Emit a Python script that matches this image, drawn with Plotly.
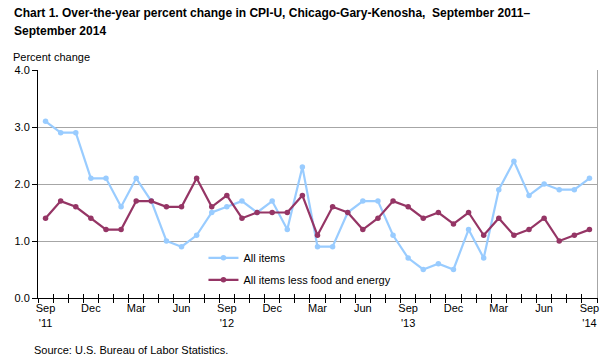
import plotly.graph_objects as go

months = ["Sep '11","Oct","Nov","Dec","Jan","Feb","Mar","Apr","May","Jun","Jul","Aug",
          "Sep '12","Oct","Nov","Dec","Jan","Feb","Mar","Apr","May","Jun","Jul","Aug",
          "Sep '13","Oct","Nov","Dec","Jan","Feb","Mar","Apr","May","Jun","Jul","Aug",
          "Sep '14"]
all_items = [3.1,2.9,2.9,2.1,2.1,1.6,2.1,1.7,1.0,0.9,1.1,1.5,
             1.6,1.7,1.5,1.7,1.2,2.3,0.9,0.9,1.5,1.7,1.7,1.1,
             0.7,0.5,0.6,0.5,1.2,0.7,1.9,2.4,1.8,2.0,1.9,1.9,
             2.1]
core = [1.4,1.7,1.6,1.4,1.2,1.2,1.7,1.7,1.6,1.6,2.1,1.6,
        1.8,1.4,1.5,1.5,1.5,1.8,1.1,1.6,1.5,1.2,1.4,1.7,
        1.6,1.4,1.5,1.3,1.5,1.1,1.4,1.1,1.2,1.4,1.0,1.1,
        1.2]
tick_labels = ["Sep<br>'11","Dec","Mar","Jun","Sep<br>'12","Dec","Mar","Jun",
               "Sep<br>'13","Dec","Mar","Jun","Sep<br>'14"]
y_ticks = [0.0, 1.0, 2.0, 3.0, 4.0]
title_lines = ["Chart 1. Over-the-year percent change in CPI-U, Chicago-Gary-Kenosha,  September 2011–",
               "September 2014"]

x = list(range(len(months)))
label_pos = x[::3]

FONT = "Liberation Sans, Arial, sans-serif"
BLUE = "#99CCFF"
MAROON = "#953565"

fig = go.Figure()
fig.add_trace(go.Scatter(x=x, y=all_items, mode="lines+markers", name="All items",
                         line=dict(color=BLUE, width=2.2), marker=dict(size=5.5, color=BLUE),
                         legendgroup="a"))
fig.add_trace(go.Scatter(x=x, y=core, mode="lines+markers", name="All items less food and energy",
                         line=dict(color=MAROON, width=2.2), marker=dict(size=5.5, color=MAROON),
                         legendgroup="b"))
fig.add_trace(go.Scatter(x=[x[0]], y=[core[0]], xaxis="x2", yaxis="y2", mode="markers",
                         marker=dict(opacity=0), showlegend=False, hoverinfo="skip"))

rng = [-0.5, len(months) - 0.5]
fig.update_layout(
    width=609, height=364,
    margin=dict(l=38, r=10, t=70, b=66),
    paper_bgcolor="white", plot_bgcolor="white",
    font=dict(family=FONT, size=11, color="black"),
    xaxis=dict(range=rng, tickmode="array", tickvals=label_pos, ticktext=tick_labels,
               ticks="", showgrid=False, zeroline=False, showline=True, linecolor="black", linewidth=1,
               tickfont=dict(size=11),
               minor=dict(tickmode="linear", tick0=-0.5, dtick=1, ticks="outside", ticklen=4,
                          tickcolor="black", tickwidth=1, showgrid=False)),
    xaxis2=dict(range=rng, overlaying="x", side="bottom", anchor="y", showticklabels=False,
                tickmode="linear", tick0=-0.5, dtick=1, ticks="inside", ticklen=4,
                tickcolor="black", showgrid=False, zeroline=False, showline=False),
    yaxis=dict(range=[0, 4.0], tickmode="array", tickvals=y_ticks,
               ticktext=[f"{v:.1f}" for v in y_ticks],
               ticks="outside", ticklen=5, tickcolor="black", showgrid=True, gridcolor="#A6A6A6",
               gridwidth=1, zeroline=False, showline=True, linecolor="black", linewidth=1,
               tickfont=dict(size=11)),
    yaxis2=dict(range=[0, 4.0], overlaying="y", side="right", anchor="x", showticklabels=False,
                ticks="", showgrid=False, zeroline=False, showline=True, linecolor="#A6A6A6", linewidth=1),
    legend=dict(x=0.296, y=0.24, xanchor="left", yanchor="top", bgcolor="rgba(0,0,0,0)",
                font=dict(size=11), traceorder="grouped", tracegroupgap=3, itemwidth=30),
    showlegend=True,
)
for i, line in enumerate(title_lines):
    fig.add_annotation(text=f"<b>{line}</b>", xref="paper", yref="paper", x=-0.047, y=1.0,
                       yshift=48 - 18 * i, xanchor="left", yanchor="bottom", showarrow=False,
                       font=dict(size=12, family=FONT))
fig.add_annotation(text="Percent change", xref="paper", yref="paper", x=-0.049, y=1.0, yshift=5,
                   xanchor="left", yanchor="bottom", showarrow=False, font=dict(size=11))
fig.add_annotation(text="Source: U.S. Bureau of Labor Statistics.", xref="paper", yref="paper",
                   x=-0.01, y=0, yshift=-44, xanchor="left", yanchor="top", showarrow=False,
                   font=dict(size=11))
fig.write_html("out.html", config={"displayModeBar": False},
               post_script="document.body.style.margin='0';document.body.style.overflow='hidden';")
